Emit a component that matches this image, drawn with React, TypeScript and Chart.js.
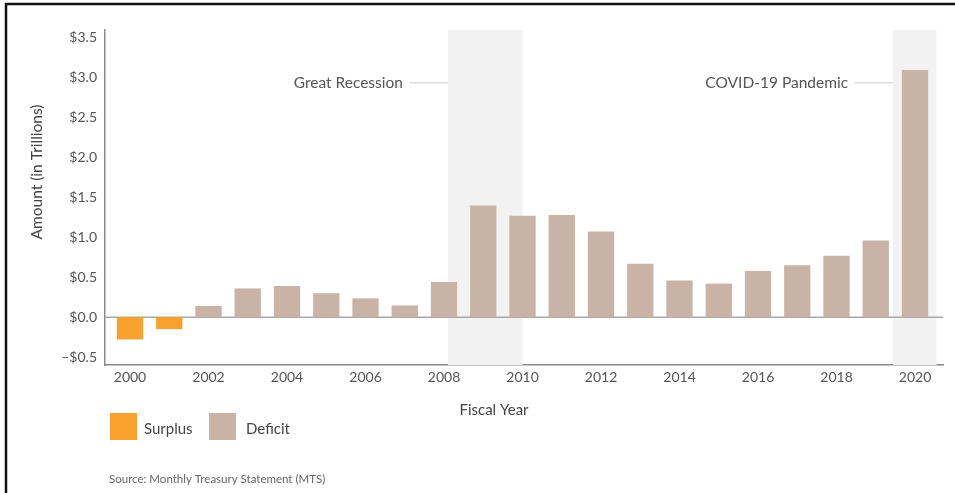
import React, { useEffect, useRef } from "react";
import { Chart, registerables } from "chart.js";

Chart.register(...registerables);

const years = [2000, 2001, 2002, 2003, 2004, 2005, 2006, 2007, 2008, 2009, 2010, 2011, 2012, 2013, 2014, 2015, 2016, 2017, 2018, 2019, 2020];
const surplus = [-0.28, -0.15, null, null, null, null, null, null, null, null, null, null, null, null, null, null, null, null, null, null, null];
const deficit = [null, null, 0.14, 0.36, 0.39, 0.30, 0.235, 0.147, 0.44, 1.40, 1.27, 1.28, 1.075, 0.67, 0.46, 0.42, 0.58, 0.65, 0.77, 0.96, 3.10];
const xTickYears = [2000, 2002, 2004, 2006, 2008, 2010, 2012, 2014, 2016, 2018, 2020];
const yTickValues = [-0.5, 0, 0.5, 1.0, 1.5, 2.0, 2.5, 3.0, 3.5];
const bands = [
  { from: 2008.1, to: 2010.0, label: "Great Recession" },
  { from: 2019.44, to: 2020.55, label: "COVID-19 Pandemic" },
];
const annotationLevel = 2.94;

const FONT = "Lato, 'Noto Sans', sans-serif";
const ORANGE = "#F8A12C";
const TAN = "#C9B2A6";
const TEXT = "#555555";

function fmtY(v: number) {
  const s = "$" + Math.abs(v).toFixed(1);
  return v < 0 ? "\u2013" + s : s;
}

const decorPlugin = {
  id: "decor",
  beforeDatasetsDraw(chart: any) {
    const { ctx, chartArea, scales } = chart;
    const x = scales.x, y = scales.y;
    ctx.save();
    ctx.fillStyle = "#F2F2F2";
    for (const b of bands) {
      const x0 = x.getPixelForValue(b.from);
      const x1 = x.getPixelForValue(b.to);
      ctx.fillRect(x0, chartArea.top, x1 - x0, chartArea.bottom - chartArea.top);
    }
    const y0 = y.getPixelForValue(0);
    ctx.strokeStyle = "#A8A8A8";
    ctx.lineWidth = 1.5;
    ctx.beginPath();
    ctx.moveTo(chartArea.left, y0);
    ctx.lineTo(chartArea.right, y0);
    ctx.stroke();
    ctx.restore();
  },
  afterDraw(chart: any) {
    const { ctx, scales } = chart;
    const x = scales.x, y = scales.y;
    ctx.save();
    // annotations
    const ay = y.getPixelForValue(annotationLevel);
    for (const b of bands) {
      const xe = x.getPixelForValue(b.from);
      ctx.strokeStyle = "#DDDDDD";
      ctx.lineWidth = 1.5;
      ctx.beginPath();
      ctx.moveTo(xe - 38, ay);
      ctx.lineTo(xe, ay);
      ctx.stroke();
      ctx.fillStyle = TEXT;
      ctx.font = `15.5px ${FONT}`;
      ctx.textAlign = "right";
      ctx.textBaseline = "middle";
      ctx.fillText(b.label, xe - 45, ay);
    }
    // axis titles
    ctx.fillStyle = "#444444";
    ctx.font = `15.5px ${FONT}`;
    ctx.textAlign = "center";
    ctx.textBaseline = "middle";
    ctx.save();
    ctx.translate(37, 172);
    ctx.rotate(-Math.PI / 2);
    ctx.fillText("Amount (in Trillions)", 0, 0);
    ctx.restore();
    ctx.font = `15px ${FONT}`;
    ctx.fillText("Fiscal Year", 494, 410);
    // legend
    ctx.fillStyle = ORANGE;
    ctx.fillRect(110, 413, 27, 27);
    ctx.fillStyle = TAN;
    ctx.fillRect(209, 413, 27, 27);
    ctx.fillStyle = "#444444";
    ctx.font = `15px ${FONT}`;
    ctx.textAlign = "left";
    ctx.fillText("Surplus", 144, 429);
    ctx.fillText("Deficit", 246, 429);
    // source
    ctx.fillStyle = "#666666";
    ctx.font = `11.5px ${FONT}`;
    ctx.fillText("Source: Monthly Treasury Statement (MTS)", 109, 479);
    // frame
    ctx.strokeStyle = "#111111";
    ctx.lineWidth = 2.5;
    ctx.beginPath();
    ctx.moveTo(955, 4);
    ctx.lineTo(6, 4);
    ctx.lineTo(6, 493);
    ctx.stroke();
    ctx.restore();
  },
};

export default function App() {
  const ref = useRef<HTMLCanvasElement | null>(null);
  useEffect(() => {
    if (!ref.current) return;
    Chart.defaults.font.family = FONT;
    const chart = new Chart(ref.current, {
      type: "bar",
      data: {
        datasets: [
          {
            label: "Surplus",
            data: years.map((yr, i) => ({ x: yr, y: surplus[i] })) as any,
            backgroundColor: ORANGE,
            categoryPercentage: 1,
            barPercentage: 0.67,
          },
          {
            label: "Deficit",
            data: years.map((yr, i) => ({ x: yr, y: deficit[i] })) as any,
            backgroundColor: TAN,
            categoryPercentage: 1,
            barPercentage: 0.67,
          },
        ],
      },
      options: {
        animation: false,
        responsive: false,
        maintainAspectRatio: false,
        layout: { padding: { left: 0, top: 30, right: 12, bottom: 0 } },
        plugins: { legend: { display: false }, tooltip: { enabled: false } },
        scales: {
          x: {
            type: "linear",
            stacked: true,
            offset: false,
            min: 1999.363,
            max: 2020.713,
            grid: { display: false, drawTicks: false },
            border: { display: true, color: "#8A8A8A", width: 1.5 },
            afterBuildTicks: (axis: any) => {
              axis.ticks = xTickYears.map((v) => ({ value: v }));
            },
            afterFit: (scale: any) => {
              scale.height = 128;
            },
            ticks: {
              padding: 4,
              color: TEXT,
              font: { size: 14, family: FONT },
              maxRotation: 0,
              autoSkip: false,
              callback: (v: any) => String(v),
            },
          },
          y: {
            stacked: true,
            min: -0.6,
            max: 3.6,
            grid: { display: false, drawTicks: false },
            border: { display: true, color: "#8A8A8A", width: 1.5 },
            afterBuildTicks: (axis: any) => {
              axis.ticks = yTickValues.map((v) => ({ value: v }));
            },
            afterFit: (scale: any) => {
              scale.width = 105;
            },
            ticks: {
              padding: 8,
              color: TEXT,
              font: { size: 14, family: FONT },
              callback: (v: any) => fmtY(Number(v)),
            },
          },
        },
      } as any,
      plugins: [decorPlugin],
    });
    return () => chart.destroy();
  }, []);
  return (
    <div style={{ position: "fixed", left: 0, top: 0, width: 955, height: 493, background: "#fff" }}>
      <canvas ref={ref} width={955} height={493} style={{ width: 955, height: 493, display: "block" }} />
    </div>
  );
}
